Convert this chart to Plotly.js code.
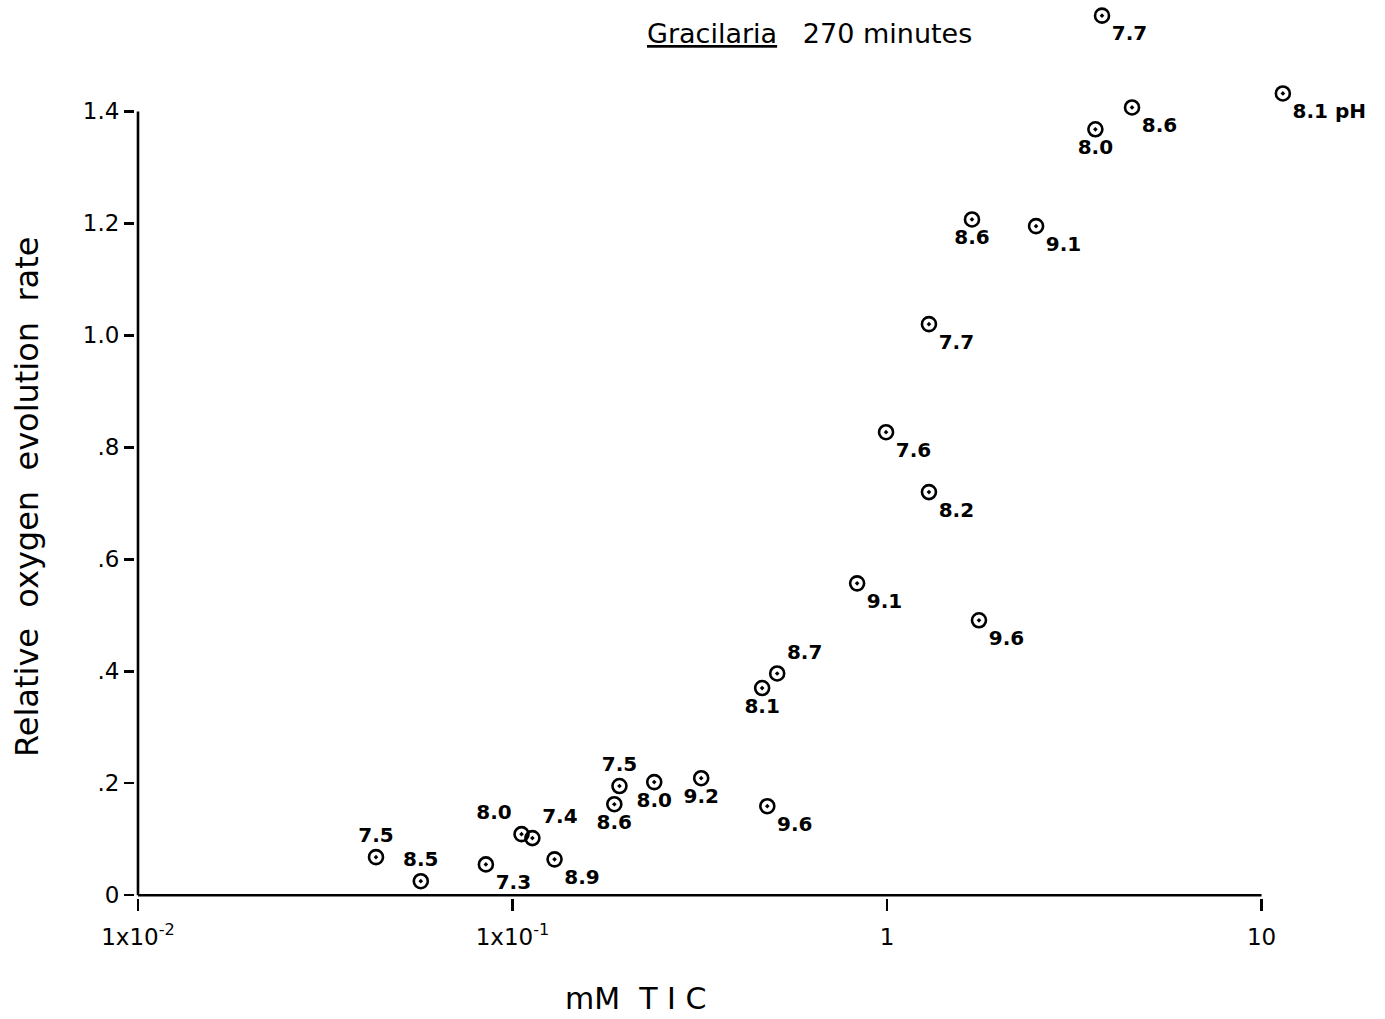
<!DOCTYPE html>
<html>
<head>
<meta charset="utf-8">
<script src="https://cdn.plot.ly/plotly-3.0.1.min.js"></script>
<style>html,body{margin:0;padding:0;background:#fff;}#chart{width:1385px;height:1019px;}</style>
</head>
<body>
<div id="chart"></div>
<script>
// mM TIC (x, log scale)
const tic = [0.0432, 0.0569, 0.0849, 0.1057, 0.113, 0.1295, 0.187, 0.193, 0.239, 0.319, 0.479,
             0.464, 0.509, 0.832, 1.76, 1.294, 0.994, 1.294, 1.686, 2.50, 3.60, 4.51, 3.75, 11.4];
// Relative oxygen evolution rate (y)
const rate = [0.068, 0.025, 0.055, 0.109, 0.102, 0.064, 0.1625, 0.195, 0.202, 0.209, 0.159,
              0.370, 0.396, 0.557, 0.491, 0.720, 0.827, 1.020, 1.207, 1.195, 1.368, 1.407, 1.571, 1.432];
// pH labels
const phLabels = ["7.5","8.5","7.3","8.0","7.4","8.9","8.6","7.5","8.0","9.2","9.6",
                  "8.1","8.7","9.1","9.6","8.2","7.6","7.7","8.6","9.1","8.0","8.6","7.7","8.1 pH"];
// axis ticks
const yTickVals = [0, 0.2, 0.4, 0.6, 0.8, 1.0, 1.2, 1.4];
const yTickText = ["0", ".2", ".4", ".6", ".8", "1.0", "1.2", "1.4"];
const xTickVals = [0.01, 0.1, 1, 10];
const xTickText = ["1x10<sup>-2</sup>", "1x10<sup>-1</sup>", "1", "10"];

const labelPos = ["top center","top center","bottom right","top left","top right","bottom right",
                  "bottom center","top center","bottom center","bottom center","bottom right",
                  "bottom center","top right","bottom right","bottom right","bottom right",
                  "bottom right","bottom right","bottom center","bottom right","bottom center",
                  "bottom right","bottom right","bottom right"];

const font = "DejaVu Sans, sans-serif";
const xMin = xTickVals[0], xMax = xTickVals[xTickVals.length - 1];
const yMin = yTickVals[0], yMax = yTickVals[yTickVals.length - 1];

// plot-area geometry (pixels) used to place paper-referenced texts
const L = 135, W = 1164.5, B = 898, H = 893;
const px = p => (p - L) / W;
const py = p => (B - p) / H;

const trace = {
  x: tic, y: rate, text: phLabels,
  type: "scatter", mode: "markers+text",
  textposition: labelPos,
  textfont: {family: font, size: 20, color: "#000", weight: "bold"},
  marker: {symbol: "circle-open-dot", size: 14, color: "#000", line: {width: 2.6, color: "#000"}},
  cliponaxis: false,
  hoverinfo: "x+y+text"
};

const layout = {
  width: 1385, height: 1019,
  paper_bgcolor: "#fff", plot_bgcolor: "#fff",
  margin: {l: 135, r: 85.5, t: 5, b: 121},
  showlegend: false,
  font: {family: font, color: "#000"},
  xaxis: {
    type: "log", range: [-2.008, 1.1],
    showgrid: false, zeroline: false, showline: false,
    ticks: "outside", ticklen: 12, tickwidth: 2.5, tickcolor: "#000",
    tickvals: xTickVals, ticktext: xTickText,
    tickfont: {family: font, size: 23}, ticklabelstandoff: 6
  },
  yaxis: {
    range: [-0.005, 1.59],
    showgrid: false, zeroline: false, showline: false,
    ticks: "outside", ticklen: 10, tickwidth: 2.5, tickcolor: "#000",
    tickvals: yTickVals, ticktext: yTickText,
    tickfont: {family: font, size: 23}
  },
  shapes: [
    {type: "line", xref: "x", yref: "y", x0: xMin, x1: xMax, y0: yMin, y1: yMin,
     line: {color: "#000", width: 2.6}},
    {type: "line", xref: "x", yref: "y", x0: xMin, x1: xMin, y0: yMin, y1: yMax,
     line: {color: "#000", width: 2.6}}
  ],
  annotations: [
    {text: "<u>Gracilaria</u>   270 minutes",
     xref: "paper", yref: "paper", x: px(645), y: py(33),
     xanchor: "left", yanchor: "middle", showarrow: false,
     font: {family: font, size: 27}},
    {text: "mM  T I C",
     xref: "paper", yref: "paper", x: px(636), y: py(998),
     xanchor: "center", yanchor: "middle", showarrow: false,
     font: {family: font, size: 30}},
    {text: "Relative  oxygen  evolution  rate",
     xref: "paper", yref: "paper", x: px(27), y: py(497), textangle: -90,
     xanchor: "center", yanchor: "middle", showarrow: false,
     font: {family: font, size: 32}}
  ]
};

Plotly.newPlot("chart", [trace], layout, {displayModeBar: false, staticPlot: true});
</script>
</body>
</html>
